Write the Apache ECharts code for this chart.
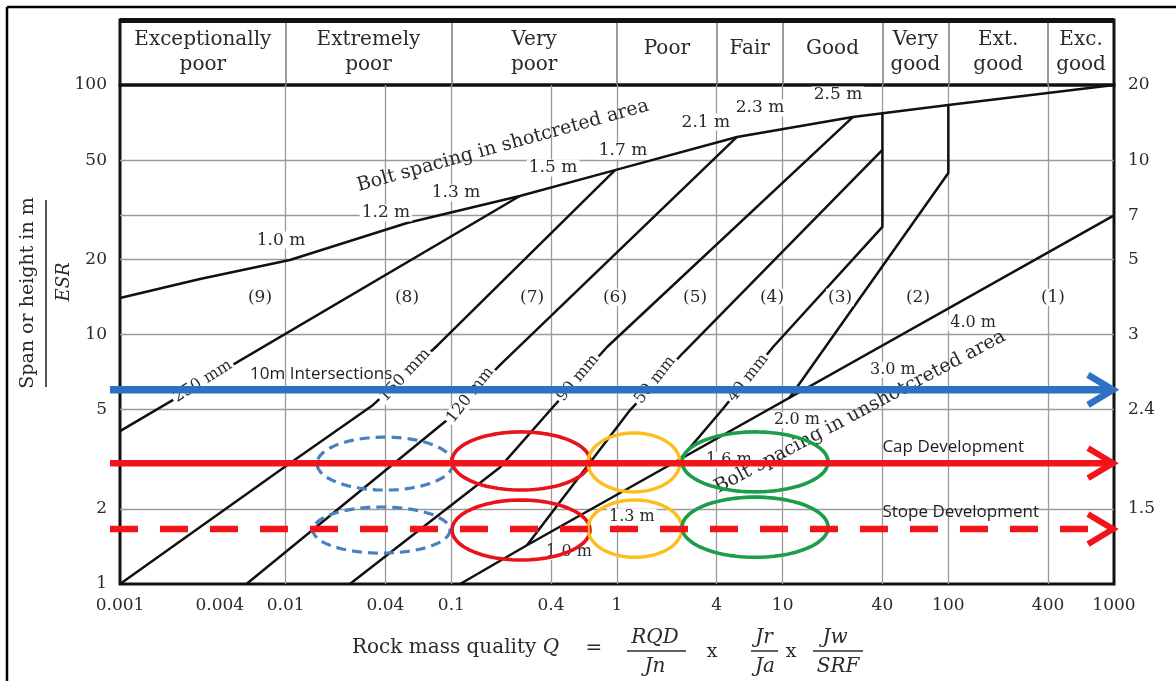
<!DOCTYPE html>
<html>
<head>
<meta charset="utf-8">
<script src="https://cdn.jsdelivr.net/npm/echarts@6/dist/echarts.min.js"></script>
<style>
html,body{margin:0;padding:0;background:#fff;}
#chart{width:1176px;height:681px;}
</style>
</head>
<body>
<div id="chart"></div>
<script>
// ================= DATA =================
const headerCategories = ['Exceptionally\npoor','Extremely\npoor','Very\npoor','Poor','Fair','Good','Very\ngood','Ext.\ngood','Exc.\ngood'];
const headerBounds = [0.001,0.01,0.1,1,4,10,40,100,400,1000];
const xTickValues = [0.001,0.004,0.01,0.04,0.1,0.4,1,4,10,40,100,400,1000];
const leftTickValues = [1,2,5,10,20,50,100];
const rightTickValues = [2,5,10,20,30,50,100];
const rightTickLabels = ['1.5','2.4','3','5','7','10','20'];
const horizontalGridValues = [2,5,10,20,30,50];
const verticalGridValues = [0.01,0.04,0.1,0.4,1,4,10,40,100,400];

// Curves: [Q, Span/ESR]
const boltSpacingShotcreted = [[0.001,14.0],[0.00304,16.7],[0.0106,19.9],[0.054,28.0],[0.259,35.9],[0.973,45.6],[5.3,61.9],[26.5,74.4],[100,83.2],[1000,100]];
const boltSpacingUnshotcreted = [[0.113,1.0],[0.286,1.43],[1000,30]];
const boundary250mm = [[0.001,4.10],[0.259,35.9]];
const boundary150mm = [[0.001,1.0],[0.0106,3.05],[0.0337,5.22],[0.083,9.08],[0.973,45.6]];
const boundary120mm = [[0.0058,1.0],[0.0942,4.54],[0.197,7.55],[5.3,61.9]];
const boundary90mm = [[0.0244,1.0],[0.197,2.94],[0.411,5.12],[0.871,8.91],[26.5,74.4]];
const boundary50mm = [[0.286,1.43],[1.20,4.98],[2.50,8.43],[40,54.9]];
const boundary40mm = [[2.4,3.16],[4.30,4.98],[8.75,8.91],[40,27.0],[40,77.0]];
const boundary3to2 = [[11,5.58],[100,44.4],[100,83.2]];

// Text labels: [Q, Span, text]
const zoneLabels = [[0.0070,14.1,'(9)'],[0.054,14.1,'(8)'],[0.307,14.1,'(7)'],[0.973,14.1,'(6)'],[2.96,14.1,'(5)'],[8.62,14.1,'(4)'],[22.2,14.1,'(3)'],[65.6,14.1,'(2)'],[428,14.1,'(1)']];
const shotcretedSpacingLabels = [[0.00937,23.9,'1.0 m'],[0.0403,30.7,'1.2 m'],[0.1067,36.9,'1.3 m'],[0.411,46.5,'1.5 m'],[1.087,54.4,'1.7 m'],[3.44,71.0,'2.1 m'],[7.30,80.9,'2.3 m'],[21.6,91.2,'2.5 m']];
const unshotcretedSpacingLabels = [[0.513,1.343,'1.0 m'],[1.23,1.855,'1.3 m'],[4.74,3.14,'1.6 m'],[12.2,4.54,'2.0 m'],[46.3,7.2,'3.0 m'],[141,11.1,'4.0 m']];
const thicknessLabels = [[0.00316,6.5,'250 mm'],[0.0525,6.87,'150 mm'],[0.130,5.72,'120 mm'],[0.581,6.69,'90 mm'],[1.70,6.57,'50 mm'],[6.18,6.69,'40 mm']];
const curveTitles = [[0.205,57.0,'Bolt spacing in shotcreted area'],[29.3,4.89,'Bolt spacing in unshotcreted area']];

// Annotations
const annotationNames = ['10m Intersections','Cap Development','Stope Development'];
const annotationSpans = [6.0,3.05,1.66];
const annotationRange = [0.00087,1000];
const annotationLabelPos = [[0.0061,6.94],[40,3.54],[40,1.94]];
// Ellipses: [Qmin, Qmax, Smin, Smax]
const ellipseBoxes = [
  [0.01546,0.1023,2.38,3.88],[0.01462,0.0982,1.33,2.035],
  [0.101,0.687,2.38,4.07],[0.101,0.687,1.248,2.17],
  [0.668,2.40,2.34,4.03],[0.668,2.47,1.28,2.17],
  [2.47,18.8,2.34,4.07],[2.47,18.8,1.28,2.23]
];

// ================= STYLES =================
const SERIF = '"DejaVu Serif", "Liberation Serif", serif';
const SANS = '"Open Sans", "Liberation Sans", sans-serif';
const INK = '#2a2a2a';
const LINE_INK = '#111';
const thicknessAngles = [32,47,52,50,52,52];
const curveTitleAngles = [15.5,28];
const annotationStyles = [
  {color:'#2e70c1', width:7.5, head:6.5, dash:null},
  {color:'#f2141b', width:6.5, head:6, dash:null},
  {color:'#f2141b', width:6.5, head:6, dash:[28,22]}
];
const ellipseStyles = [
  {color:'#4b7fc0', width:3.2, dash:[10,6]},{color:'#4b7fc0', width:3.2, dash:[10,6]},
  {color:'#e8131b', width:3.6, dash:null},{color:'#e8131b', width:3.6, dash:null},
  {color:'#fdbd1a', width:3.4, dash:null},{color:'#fdbd1a', width:3.4, dash:null},
  {color:'#1b9d4b', width:3.6, dash:null},{color:'#1b9d4b', width:3.6, dash:null}
];

function fmtNum(v){ return String(+(+v).toPrecision(3)); }
function nearestLabel(v, vals, labels){
  let bi = 0, bd = Infinity;
  vals.forEach((x,i)=>{ const d = Math.abs(Math.log(x) - Math.log(v)); if (d < bd) { bd = d; bi = i; } });
  return labels[bi];
}
function fontStr(size, family, italic){ return (italic ? 'italic ' : '') + size + 'px ' + family; }

function textSeries(items, opts, angles){
  return {
    type:'custom', xAxisIndex:0, yAxisIndex:0, z: opts.z || 5, silent:true,
    data: items.map(it => [it[0], it[1]]),
    encode:{x:0, y:1},
    renderItem: function(params, api){
      const it = items[params.dataIndex];
      const p = api.coord([it[0], it[1]]);
      const rot = angles ? angles[params.dataIndex] : 0;
      const st = {
        text: it[2], font: fontStr(opts.size, opts.family || SERIF, opts.italic),
        fill: opts.color || INK, textFill: opts.color || INK,
        align: opts.align || 'center', textAlign: opts.align || 'center',
        verticalAlign: 'middle', textVerticalAlign: 'middle'
      };
      if (opts.bg) { st.backgroundColor = '#fff'; st.textBackgroundColor = '#fff'; st.padding = [0,2]; st.textPadding = [0,2]; }
      return {type:'text', x:p[0], y:p[1], rotation: rot*Math.PI/180, style: st};
    }
  };
}

function lineSeries(data){
  return {type:'line', xAxisIndex:0, yAxisIndex:0, data:data, showSymbol:false, symbol:'none', silent:true, z:3,
    lineStyle:{color:LINE_INK, width:2.5}};
}

function gText(x, y, text, size, italic, align, rot){
  const a = align || 'center';
  return {type:'text', x:x, y:y, rotation: rot || 0,
    style:{text:text, font:fontStr(size, SERIF, italic), fill:INK, textAlign:a, textVerticalAlign:'middle', align:a, verticalAlign:'middle'}};
}
function gLine(x1, y1, x2, y2, w, c){
  return {type:'line', shape:{x1:x1,y1:y1,x2:x2,y2:y2}, style:{stroke:c || INK, lineWidth:w}};
}

const option = {
  animation:false,
  backgroundColor:'#fff',
  grid:[
    {left:120, right:62, top:85, height:499, show:true, borderColor:'#111', borderWidth:3, backgroundColor:'rgba(0,0,0,0)'},
    {left:120, right:62, top:20, height:65, show:true, borderColor:'#111', borderWidth:3, backgroundColor:'rgba(0,0,0,0)'}
  ],
  xAxis:[
    {gridIndex:0, type:'log', logBase:10, min:0.001, max:1000,
     axisLine:{show:false}, axisTick:{show:false}, splitLine:{show:false},
     axisLabel:{customValues:xTickValues, formatter:fmtNum, fontFamily:SERIF, fontSize:17, color:INK, margin:13, hideOverlap:false}},
    {gridIndex:1, type:'log', logBase:10, min:0.001, max:1000, show:false}
  ],
  yAxis:[
    {gridIndex:0, type:'log', logBase:10, min:1, max:100, position:'left',
     axisLine:{show:false}, axisTick:{show:false}, splitLine:{show:false},
     axisLabel:{customValues:leftTickValues, formatter:fmtNum, fontFamily:SERIF, fontSize:17, color:INK, margin:13}},
    {gridIndex:0, type:'log', logBase:10, min:1, max:100, position:'right',
     axisLine:{show:false}, axisTick:{show:false}, splitLine:{show:false},
     axisLabel:{customValues:rightTickValues, formatter:v => nearestLabel(v, rightTickValues, rightTickLabels), fontFamily:SERIF, fontSize:17, color:INK, margin:14}},
    {gridIndex:1, type:'value', min:0, max:1, show:false}
  ],
  graphic:[
    gLine(7,7,1176,7,2.5,'#000'),
    gLine(7,7,7,681,2.5,'#000'),
    gText(28, 293, 'Span or height in m', 19, false, 'center', Math.PI/2),
    gLine(46,200,46,387,1.6),
    gText(64, 282, 'ESR', 18, true, 'center', Math.PI/2),
    gText(352, 648, 'Rock mass quality', 20, false, 'left'),
    gText(551, 648, 'Q', 20, true),
    gText(594, 649, '=', 20, false),
    gText(655, 638, 'RQD', 20, true),
    gLine(627,651,686,651,1.5),
    gText(655, 667, 'Jn', 20, true),
    gText(712, 652, 'x', 19, false),
    gText(764, 638, 'Jr', 20, true),
    gLine(751,651,778,651,1.5),
    gText(765, 667, 'Ja', 20, true),
    gText(791, 652, 'x', 19, false),
    gText(835, 638, 'Jw', 20, true),
    gLine(813,651,863,651,1.5),
    gText(838, 667, 'SRF', 20, true)
  ],
  series:[
    // main gridlines
    {type:'line', xAxisIndex:0, yAxisIndex:0, data:[], silent:true, z:1,
     markLine:{silent:true, z:1, symbol:['none','none'], label:{show:false}, animation:false,
       lineStyle:{color:'#9a9a9a', width:1.3, type:'solid'},
       data: horizontalGridValues.map(v => ({yAxis:v})).concat(verticalGridValues.map(v => ({xAxis:v})))}},
    // header separators + heavy top line
    {type:'line', xAxisIndex:1, yAxisIndex:2, data:[], silent:true, z:1,
     markLine:{silent:true, z:1, symbol:['none','none'], label:{show:false}, animation:false,
       lineStyle:{color:'#7a7a7a', width:1.5, type:'solid'},
       data: headerBounds.slice(1,-1).map(v => ({xAxis:v})).concat([{yAxis:1, lineStyle:{color:'#111', width:5}}])}},
    // header labels
    {type:'custom', xAxisIndex:1, yAxisIndex:2, silent:true, z:5,
     data: headerCategories.map((n,i) => [Math.sqrt(headerBounds[i]*headerBounds[i+1]), n.indexOf('\n') >= 0 ? 0.5 : 0.55]),
     encode:{x:0, y:1},
     renderItem: function(params, api){
       const p = api.coord([api.value(0), api.value(1)]);
       return {type:'text', x:p[0], y:p[1], style:{text:headerCategories[params.dataIndex], font:fontStr(20,SERIF), lineHeight:25,
         fill:INK, textFill:INK, align:'center', textAlign:'center', verticalAlign:'middle', textVerticalAlign:'middle', textLineHeight:25}};
     }},
    lineSeries(boltSpacingShotcreted),
    lineSeries(boltSpacingUnshotcreted),
    lineSeries(boundary250mm),
    lineSeries(boundary150mm),
    lineSeries(boundary120mm),
    lineSeries(boundary90mm),
    lineSeries(boundary50mm),
    lineSeries(boundary40mm),
    lineSeries(boundary3to2),
    textSeries(zoneLabels, {size:17, bg:true}),
    textSeries(shotcretedSpacingLabels, {size:17, bg:true}),
    textSeries(unshotcretedSpacingLabels, {size:16, bg:true}),
    textSeries(thicknessLabels, {size:16, bg:true}, thicknessAngles),
    textSeries(curveTitles, {size:19}, curveTitleAngles),
    // ellipses
    {type:'custom', xAxisIndex:0, yAxisIndex:0, silent:true, z:7,
     data: ellipseBoxes, encode:{x:[0,1], y:[2,3]},
     renderItem: function(params, api){
       const st = ellipseStyles[params.dataIndex];
       const p0 = api.coord([api.value(0), api.value(2)]);
       const p1 = api.coord([api.value(1), api.value(3)]);
       const cx = (p0[0]+p1[0])/2, cy = (p0[1]+p1[1])/2;
       const rx = Math.abs(p1[0]-p0[0])/2, ry = Math.abs(p1[1]-p0[1])/2;
       const pts = [];
       for (let k = 0; k < 96; k++) { const a = k/96*2*Math.PI; pts.push([cx + rx*Math.cos(a), cy + ry*Math.sin(a)]); }
       return {type:'polygon', shape:{points:pts}, style:{fill:'none', stroke:st.color, lineWidth:st.width, lineDash:st.dash}};
     }},
    // arrows
    {type:'custom', xAxisIndex:0, yAxisIndex:0, silent:true, z:8, clip:false,
     data: annotationSpans.map(s => [annotationRange[0], annotationRange[1], s]), encode:{x:[0,1], y:2},
     renderItem: function(params, api){
       const st = annotationStyles[params.dataIndex];
       const a = api.coord([api.value(0), api.value(2)]);
       const b = api.coord([api.value(1), api.value(2)]);
       return {type:'group', children:[
         {type:'line', shape:{x1:a[0], y1:a[1], x2:b[0]-3, y2:b[1]}, style:{stroke:st.color, lineWidth:st.width, lineDash:st.dash}},
         {type:'polyline', shape:{points:[[b[0]-26, b[1]-15],[b[0]-1, b[1]],[b[0]-26, b[1]+15]]}, style:{stroke:st.color, lineWidth:st.head, fill:'none'}}
       ]};
     }},
    textSeries(annotationLabelPos.map((p,i) => [p[0], p[1], annotationNames[i]]), {size:17, family:SANS, align:'left', color:'#1e1e1e', z:9})
  ]
};

const chart = echarts.init(document.getElementById('chart'), null, {renderer:'canvas'});
chart.setOption(option);
</script>
</body>
</html>
